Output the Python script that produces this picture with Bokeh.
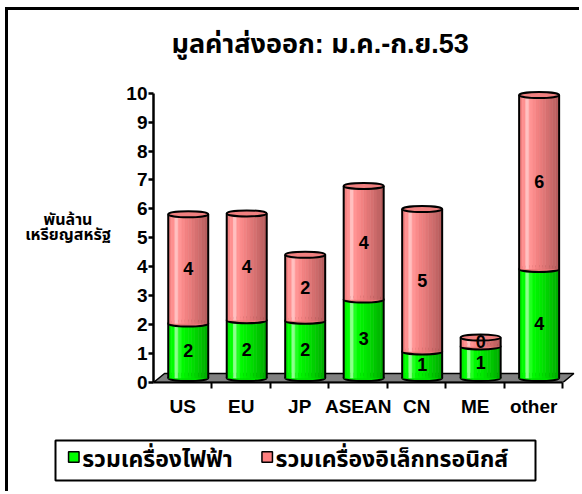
from bokeh.plotting import figure
from bokeh.models import Range1d, FixedTicker, Title
from bokeh.layouts import column, row
from bokeh.embed import file_html
from bokeh.resources import INLINE
from bokeh.core.properties import value

# ---------------- data ----------------
categories = ["US", "EU", "JP", "ASEAN", "CN", "ME", "other"]
electrical = [1.88, 2.00, 1.98, 2.71, 0.92, 1.09, 3.77]     # รวมเครื่องไฟฟ้า
electronics = [3.78, 3.69, 2.28, 3.93, 4.92, 0.31, 6.01]    # รวมเครื่องอิเล็กทรอนิกส์
y_ticks = [0, 1, 2, 3, 4, 5, 6, 7, 8, 9, 10]
series_names = ["รวมเครื่องไฟฟ้า", "รวมเครื่องอิเล็กทรอนิกส์"]
series_colors = ["#00FF00", "#FF8080"]
title_text = "มูลค่าส่งออก: ม.ค.-ก.ย.53"
ylabel_lines = ["พันล้าน", "เหรียญสหรัฐ"]

# ---------------- style ----------------
FONT = "'Liberation Sans', 'Noto Sans Thai', 'Tahoma', sans-serif"
PX_X = 58.5        # px per category
PX_Y = 298 / 10.3  # px per value unit
DX = 5.5 / PX_X    # 3-D depth shift of the bars
DY = 4.5 / PX_Y
FDX = 11 / PX_X    # floor depth
FDY = 9 / PX_Y
W = 40 / PX_X      # cylinder width

green_strips = ["#00F000", "#00FF00", "#8CFF8C", "#20FF20", "#00FA00", "#00F000",
                "#00E800", "#00DE00", "#00D200", "#00C600", "#00BA00", "#00AE00"]
pink_strips = ["#F48282", "#FF9090", "#FFC0C0", "#FF9494", "#FA8A8A", "#F28282",
               "#EA7C7C", "#E07676", "#D67070", "#CC6A6A", "#C26464", "#B85E5E"]

LEFT_W = 110
TOP_H = 430
LEG_H = 54

# ---------------- y-axis title panel ----------------
pl = figure(width=LEFT_W, height=TOP_H, x_range=Range1d(0, LEFT_W), y_range=Range1d(0, TOP_H),
            x_axis_type=None, y_axis_type=None, output_backend="svg", toolbar_location=None,
            min_border=0, outline_line_color=None)
pl.xgrid.visible = False
pl.ygrid.visible = False
pl.styles = {"margin-left": "5px", "margin-top": "7px",
             "border-top": "3px solid black", "border-left": "3px solid black"}
pl.text(x=[59.5, 59.5], y=[TOP_H - 194.5, TOP_H - 216.8], text=ylabel_lines,
        text_align="center", text_baseline="middle", text_font=value(FONT),
        text_font_size="16px", text_font_style="bold", text_color="black")

# ---------------- main chart ----------------
p = figure(width=574 - LEFT_W, height=TOP_H, x_range=Range1d(0, 7.25), y_range=Range1d(0, 10.3),
           output_backend="svg", toolbar_location=None,
           min_border_left=148 - LEFT_W, min_border_right=2, min_border_top=74,
           min_border_bottom=TOP_H - 74 - 298)
p.xgrid.visible = False
p.ygrid.visible = False
p.outline_line_color = None
p.styles = {"margin-top": "7px", "border-top": "3px solid black"}

n = len(categories)
xc = [i + 0.5 + DX for i in range(n)]
totals = [g + e for g, e in zip(electrical, electronics)]
g_top = [g + DY for g in electrical]
t_top = [t + DY for t in totals]

# floor
p.patch(x=[0, n, n + FDX, FDX], y=[0, 0, FDY, FDY], fill_color="#808080",
        line_color="black", line_width=1.5)

# bottom ellipses (green)
p.ellipse(x=xc, y=[DY] * n, width=W, height=6, height_units="screen",
          fill_color="#00E000", line_color="black", line_width=2)

ns = len(green_strips)
sw = W / ns
for k in range(ns):
    xs = [x - W / 2 + sw * (k + 0.5) for x in xc]
    p.vbar(x=xs, bottom=[DY] * n, top=g_top, width=sw, fill_color=green_strips[k],
           line_color=green_strips[k], line_width=0.6)

# boundary ellipses (pink bottom)
p.ellipse(x=xc, y=g_top, width=W, height=6, height_units="screen",
          fill_color="#E87878", line_color="black", line_width=2)

for k in range(ns):
    xs = [x - W / 2 + sw * (k + 0.5) for x in xc]
    p.vbar(x=xs, bottom=g_top, top=t_top, width=sw, fill_color=pink_strips[k],
           line_color=pink_strips[k], line_width=0.6)

# top ellipses
p.ellipse(x=xc, y=t_top, width=W, height=6, height_units="screen",
          fill_color="#F08080", line_color="black", line_width=2)

# cylinder sides
p.segment(x0=[x - W / 2 for x in xc], y0=[DY] * n, x1=[x - W / 2 for x in xc], y1=t_top,
          line_color="black", line_width=2)
p.segment(x0=[x + W / 2 for x in xc], y0=[DY] * n, x1=[x + W / 2 for x in xc], y1=t_top,
          line_color="black", line_width=2)

# value labels
p.text(x=xc, y=[DY + g / 2 for g in electrical], text=[str(round(g)) for g in electrical],
       text_align="center", text_baseline="middle", text_font=value(FONT),
       text_font_size="18px", text_font_style="bold", text_color="black")
p.text(x=xc, y=[DY + g + e / 2 for g, e in zip(electrical, electronics)],
       text=[str(round(e)) for e in electronics],
       text_align="center", text_baseline="middle", text_font=value(FONT),
       text_font_size="18px", text_font_style="bold", text_color="black")

# axes
p.yaxis.ticker = FixedTicker(ticks=y_ticks)
p.yaxis.bounds = (0, 10)
p.yaxis.axis_line_width = 2.5
p.yaxis.major_tick_out = 5
p.yaxis.major_tick_in = 0
p.yaxis.major_tick_line_width = 2.5
p.yaxis.minor_tick_line_color = None
p.yaxis.major_label_text_font = FONT
p.yaxis.major_label_text_font_size = "19px"
p.yaxis.major_label_text_font_style = "bold"
p.yaxis.major_label_text_color = "black"
p.yaxis.major_label_standoff = 1

cat_pos = [i + 0.5 for i in range(n)]
p.xaxis.ticker = FixedTicker(ticks=cat_pos, minor_ticks=list(range(1, n + 1)))
p.xaxis.major_label_overrides = {pos: c for pos, c in zip(cat_pos, categories)}
p.xaxis.bounds = (0, n)
p.xaxis.axis_line_width = 2
p.xaxis.major_tick_line_color = None
p.xaxis.major_tick_out = 0
p.xaxis.major_tick_in = 0
p.xaxis.minor_tick_out = 6
p.xaxis.minor_tick_in = 0
p.xaxis.minor_tick_line_width = 2
p.xaxis.major_label_text_font = FONT
p.xaxis.major_label_text_font_size = "19px"
p.xaxis.major_label_text_font_style = "bold"
p.xaxis.major_label_text_color = "black"
p.xaxis.major_label_standoff = 7

# title (spacer first, nearest the frame, then the real title)
p.add_layout(Title(text=" ", text_font_size="8px"), "above")
p.add_layout(Title(text=title_text, align="left", offset=18, text_font=FONT,
                   text_font_size="27px", text_font_style="bold", text_color="black"), "above")

# ---------------- legend panel ----------------
p2 = figure(width=574, height=LEG_H, x_range=Range1d(0, 574), y_range=Range1d(0, LEG_H),
            x_axis_type=None, y_axis_type=None, output_backend="svg", toolbar_location=None,
            min_border=0, outline_line_color=None)
p2.xgrid.visible = False
p2.ygrid.visible = False
p2.styles = {"margin-left": "5px", "border-left": "3px solid black"}
p2.quad(left=[47], right=[527], bottom=[LEG_H - 43], top=[LEG_H - 3],
        fill_color="white", line_color="black", line_width=2)
sq_x = [65.3, 258.7]
txt_x = [73.7, 267]
p2.rect(x=sq_x, y=[LEG_H - 19.5] * 2, width=10.5, height=10.5, fill_color=series_colors,
        line_color="black", line_width=1.5)
p2.text(x=txt_x, y=[LEG_H - 21] * 2, text=series_names, text_align="left",
        text_baseline="middle", text_font=value(FONT), text_font_size="23px",
        text_font_style="bold", text_color="black")

layout = column(row(pl, p, spacing=0), p2, spacing=0)
open("out.html", "w").write(file_html(layout, INLINE))
